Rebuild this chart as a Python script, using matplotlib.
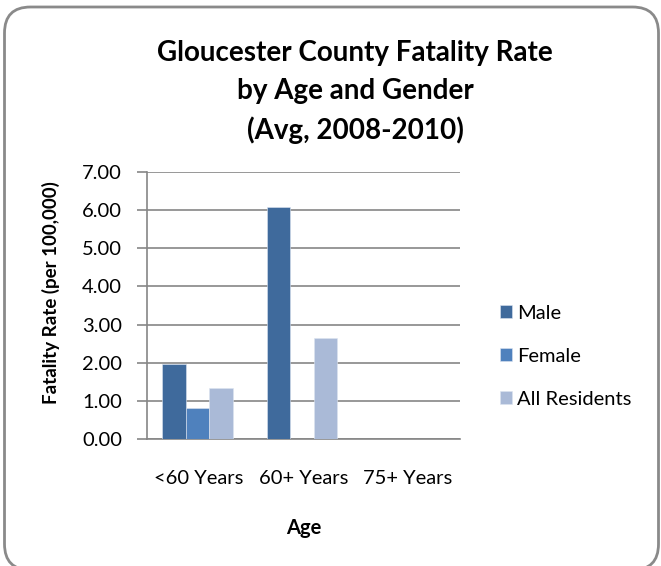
import numpy as np
import matplotlib
matplotlib.use("Agg")
import matplotlib.pyplot as plt
from matplotlib.patches import FancyBboxPatch

plt.rcParams['font.family'] = ['Lato', 'DejaVu Sans']

# data
categories = ["<60 Years", "60+ Years", "75+ Years"]
male = [1.97, 6.07, 0.0]
female = [0.81, 0.0, 0.0]
all_res = [1.35, 2.66, 0.0]
series_names = ["Male", "Female", "All Residents"]
colors = ["#3F6A9C", "#4F81BD", "#AABAD7"]

fig = plt.figure(figsize=(6.61, 5.66), dpi=100)

# rounded chart border (inches), bottom edge sits just below the image
border = FancyBboxPatch((0.045, -0.04), 6.54, 5.63,
                        boxstyle="round,pad=0,rounding_size=0.26",
                        transform=fig.dpi_scale_trans, facecolor="white",
                        edgecolor="#8A8A8A", linewidth=2.0, zorder=-5)
fig.patches.append(border)

ax = fig.add_axes([147 / 661, 1 - 439 / 566, (460 - 147) / 661, (439 - 172) / 566])
ax.set_facecolor("none")

x = np.arange(len(categories))
w = 0.225
for i, (vals, name, c) in enumerate(zip([male, female, all_res], series_names, colors)):
    ax.bar(x + (i - 1) * w - 0.015, vals, width=w, color=c, label=name,
           edgecolor="#DCE4F0", linewidth=0.4, zorder=3)

ax.set_xlim(-0.5, 2.5)
ax.set_ylim(0, 7)
ax.set_yticks(np.arange(0, 8, 1))
ax.set_yticklabels([f"{v:.2f}" for v in range(8)], fontsize=14.5)
ax.set_xticks(x)
ax.set_xticklabels(categories, fontsize=14.5)
ax.tick_params(axis="x", length=0, pad=22)
ax.tick_params(axis="y", length=7, color="#868686", width=1.2, pad=11)
ax.grid(axis="y", color="#868686", linewidth=1.2, zorder=0)

for s in ["top", "right"]:
    ax.spines[s].set_visible(False)
ax.spines["left"].set_color("#868686")
ax.spines["left"].set_linewidth(1.2)
ax.spines["bottom"].set_color("#868686")
ax.spines["bottom"].set_linewidth(1.2)

ax.set_xlabel("Age", fontsize=14.5, fontweight="bold", labelpad=23)
ax.set_ylabel("Fatality Rate (per 100,000)", fontsize=13.5, fontweight="bold")
ax.yaxis.set_label_coords(-0.278, 0.55)

fig.text(355 / 661, 1 - 92 / 566,
         "Gloucester County Fatality Rate\nby Age and Gender\n(Avg, 2008-2010)",
         ha="center", va="center", fontsize=20, fontweight="bold", linespacing=1.55)

ax.legend(loc="center left", bbox_to_anchor=(1.07, 0.31), frameon=False,
          fontsize=14.5, handlelength=0.6, handleheight=0.6, handletextpad=0.25,
          labelspacing=1.3)

fig.savefig("out.png", dpi=100)
